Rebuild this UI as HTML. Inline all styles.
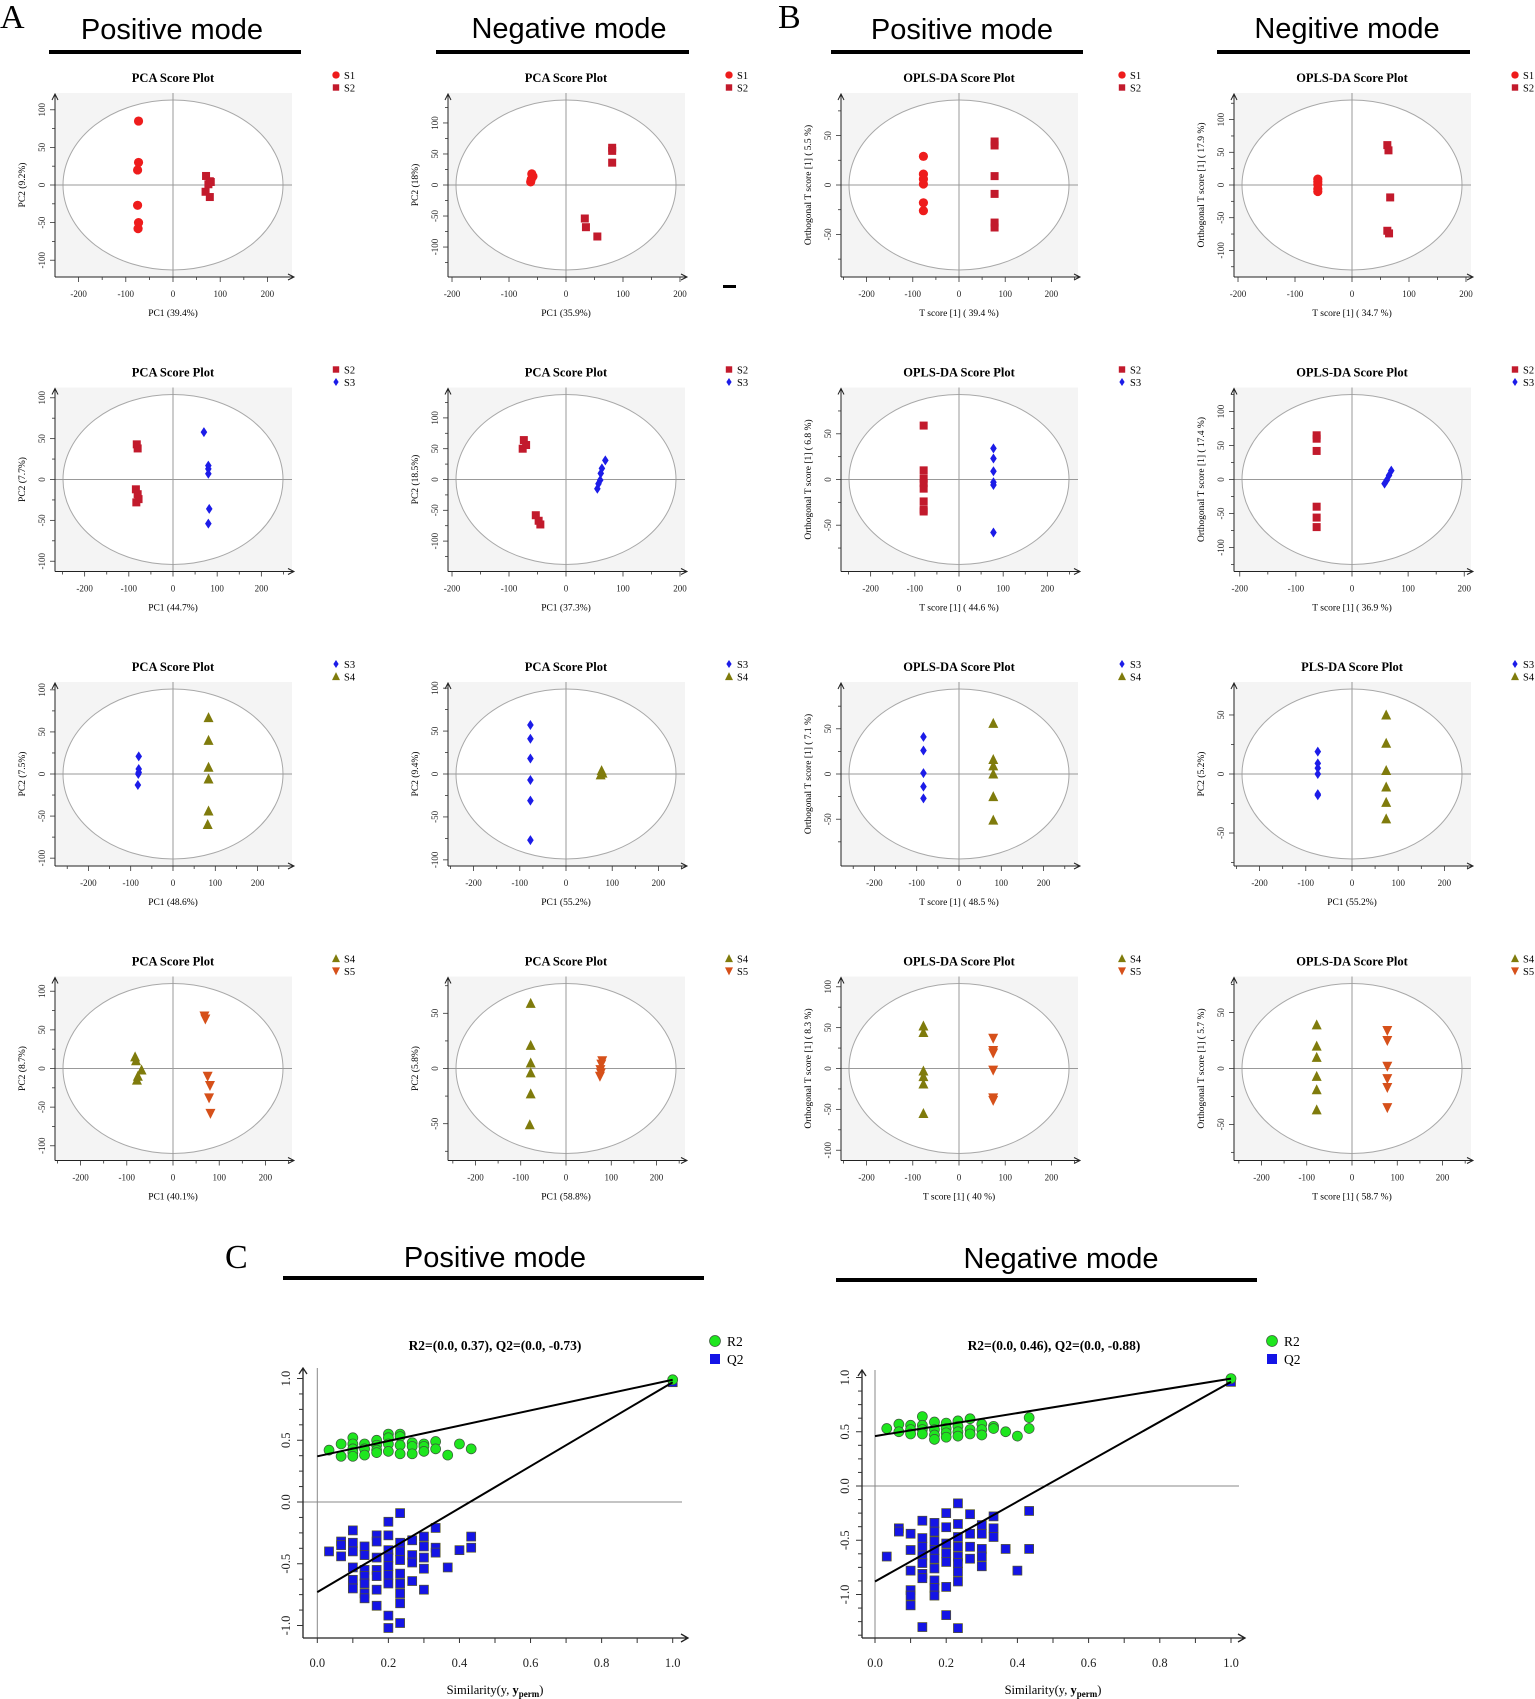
<!DOCTYPE html>
<html><head><meta charset="utf-8"><style>
html,body{margin:0;padding:0;background:#fff;}
svg{display:block;font-family:"Liberation Serif",serif;}
.hd{font-family:"Liberation Sans",sans-serif;font-size:29px;fill:#000;}
</style></head><body>
<svg id="fig" width="1535" height="1699" viewBox="0 0 1535 1699" xmlns="http://www.w3.org/2000/svg">
<text x="0" y="28" font-size="34" font-family="Liberation Serif,serif">A</text>
<text x="778" y="28" font-size="34" font-family="Liberation Serif,serif">B</text>
<text x="225" y="1268" font-size="34" font-family="Liberation Serif,serif">C</text>
<text class="hd" x="172" y="39" text-anchor="middle">Positive mode</text>
<rect x="49" y="50" width="252" height="4"/>
<text class="hd" x="569" y="38" text-anchor="middle">Negative mode</text>
<rect x="436" y="50" width="253" height="4"/>
<text class="hd" x="962" y="39" text-anchor="middle">Positive mode</text>
<rect x="831" y="50" width="252" height="4"/>
<text class="hd" x="1347" y="38" text-anchor="middle">Negitive mode</text>
<rect x="1217" y="50" width="253" height="4"/>
<rect x="723" y="285" width="13" height="3"/>
<text class="hd" x="495" y="1267" text-anchor="middle">Positive mode</text>
<rect x="283" y="1276" width="421" height="4"/>
<text class="hd" x="1061" y="1268" text-anchor="middle">Negative mode</text>
<rect x="836" y="1278" width="421" height="4"/>
</svg>
<script>
// ---------- score plot data (units) ----------
const r1c1_S1 = [[-73,85],[-73,30],[-75,20],[-75,-27],[-73,-50],[-74,-58]];
const r1c1_S2 = [[70,12],[78,5],[75,1],[80,4],[69,-9],[78,-16]];
const r1c2_S1 = [[-60,18],[-58,14],[-61,9],[-62,5]];
const r1c2_S2 = [[81,60],[81,55],[81,36],[33,-54],[35,-68],[55,-83]];
const r1c3_S1 = [[-77,29],[-77,11],[-77,6],[-77,1],[-77,-18],[-77,-26]];
const r1c3_S2 = [[77,44],[77,40],[77,9],[77,-9],[77,-38],[77,-43]];
const r1c4_S1 = [[-60,9],[-60,5],[-60,1],[-60,-6],[-60,-10]];
const r1c4_S2 = [[62,61],[64,53],[67,-19],[62,-70],[65,-74]];
const r2c1_S2 = [[-82,43],[-80,38],[-84,-12],[-80,-18],[-78,-24],[-83,-28]];
const r2c1_S3 = [[70,58],[80,17],[80,13],[80,7],[82,-36],[80,-54]];
const r2c2_S2 = [[-74,64],[-70,56],[-76,50],[-53,-58],[-48,-67],[-45,-73]];
const r2c2_S3 = [[69,31],[63,18],[61,10],[60,-1],[57,-7],[55,-15]];
const r2c3_S2 = [[-80,59],[-80,10],[-80,1],[-80,-4],[-80,-10],[-80,-24],[-80,-33],[-80,-35]];
const r2c3_S3 = [[78,34],[78,23],[78,9],[78,-3],[78,-6],[78,-58]];
const r2c4_S2 = [[-63,65],[-63,60],[-63,42],[-63,-40],[-63,-56],[-63,-70]];
const r2c4_S3 = [[70,13],[66,6],[62,-1],[58,-6]];
const r3c1_S3 = [[-81,21],[-81,6],[-81,2],[-82,0],[-83,-13]];
const r3c1_S4 = [[84,67],[84,40],[84,8],[84,-6],[84,-44],[82,-60]];
const r3c2_S3 = [[-77,57],[-77,41],[-77,18],[-77,-7],[-77,-31],[-77,-77]];
const r3c2_S4 = [[77,4],[79,1],[75,-1]];
const r3c3_S3 = [[-84,41],[-84,26],[-84,1],[-84,-14],[-84,-27]];
const r3c3_S4 = [[81,56],[81,16],[81,9],[81,0],[81,-25],[81,-51]];
const r3c4_S3 = [[-74,19],[-74,9],[-74,5],[-74,0],[-74,-17],[-74,-18]];
const r3c4_S4 = [[74,50],[74,26],[74,3],[74,-11],[74,-24],[74,-38]];
const r4c1_S4 = [[-82,15],[-80,10],[-68,-2],[-78,-15],[-76,-10]];
const r4c1_S5 = [[68,68],[70,64],[75,-10],[80,-22],[78,-38],[81,-58]];
const r4c2_S4 = [[-78,59],[-78,21],[-78,5],[-78,-4],[-78,-23],[-80,-51]];
const r4c2_S5 = [[80,7],[78,4],[76,-1],[77,-4],[75,-7]];
const r4c3_S4 = [[-77,52],[-77,44],[-77,-3],[-77,-10],[-77,-19],[-77,-55]];
const r4c3_S5 = [[74,37],[74,22],[74,19],[74,-2],[74,-36],[74,-39]];
const r4c4_S4 = [[-78,39],[-78,20],[-78,10],[-78,-7],[-78,-19],[-78,-37]];
const r4c4_S5 = [[78,34],[78,25],[78,2],[78,-9],[78,-17],[78,-35]];

// ellipse half-axes (units) per panel, row-major
const xRadius = [233,193,238,193, 249,193,249,196, 260,238,260,238, 238,243,238,243];
const yRadius = [113,137,86,130, 104,138,93,125, 101,99,94,72, 110,77,104,76];
const xTicks = [-200,-100,0,100,200];
const titles = ["PCA Score Plot","PCA Score Plot","OPLS-DA Score Plot","OPLS-DA Score Plot",
 "PCA Score Plot","PCA Score Plot","OPLS-DA Score Plot","OPLS-DA Score Plot",
 "PCA Score Plot","PCA Score Plot","OPLS-DA Score Plot","PLS-DA Score Plot",
 "PCA Score Plot","PCA Score Plot","OPLS-DA Score Plot","OPLS-DA Score Plot"];
const xLabels = ["PC1 (39.4%)","PC1 (35.9%)","T score [1] ( 39.4 %)","T score [1] ( 34.7 %)",
 "PC1 (44.7%)","PC1 (37.3%)","T score [1] ( 44.6 %)","T score [1] ( 36.9 %)",
 "PC1 (48.6%)","PC1 (55.2%)","T score [1] ( 48.5 %)","PC1 (55.2%)",
 "PC1 (40.1%)","PC1 (58.8%)","T score [1] ( 40 %)","T score [1] ( 58.7 %)"];
const yLabels = ["PC2 (9.2%)","PC2 (18%)","Orthogonal T score [1] ( 5.5 %)","Orthogonal T score [1] ( 17.9 %)",
 "PC2 (7.7%)","PC2 (18.5%)","Orthogonal T score [1] ( 6.8 %)","Orthogonal T score [1] ( 17.4 %)",
 "PC2 (7.5%)","PC2 (9.4%)","Orthogonal T score [1] ( 7.1 %)","PC2 (5.2%)",
 "PC2 (8.7%)","PC2 (5.8%)","Orthogonal T score [1] ( 8.3 %)","Orthogonal T score [1] ( 5.7 %)"];
const groupNames = [["S1","S2"],["S2","S3"],["S3","S4"],["S4","S5"]];
const groupData = [
 [r1c1_S1,r1c1_S2],[r1c2_S1,r1c2_S2],[r1c3_S1,r1c3_S2],[r1c4_S1,r1c4_S2],
 [r2c1_S2,r2c1_S3],[r2c2_S2,r2c2_S3],[r2c3_S2,r2c3_S3],[r2c4_S2,r2c4_S3],
 [r3c1_S3,r3c1_S4],[r3c2_S3,r3c2_S4],[r3c3_S3,r3c3_S4],[r3c4_S3,r3c4_S4],
 [r4c1_S4,r4c1_S5],[r4c2_S4,r4c2_S5],[r4c3_S4,r4c3_S5],[r4c4_S4,r4c4_S5]];

// ---------- permutation data ----------
const posR2x = [0.033,0.067,0.067,0.1,0.1,0.1,0.1,0.1,0.133,0.133,0.133,0.167,0.167,0.167,0.167,0.2,0.2,0.2,0.2,0.233,0.233,0.233,0.233,0.267,0.267,0.267,0.3,0.3,0.3,0.333,0.333,0.367,0.4,0.433,1.0];
const posR2y = [0.42,0.47,0.37,0.52,0.47,0.43,0.40,0.37,0.47,0.43,0.38,0.50,0.46,0.42,0.40,0.55,0.52,0.47,0.41,0.55,0.53,0.46,0.39,0.48,0.45,0.39,0.47,0.45,0.41,0.49,0.43,0.38,0.47,0.43,0.99];
const posQ2x = [0.033,0.067,0.067,0.067,0.1,0.1,0.1,0.1,0.1,0.1,0.133,0.133,0.133,0.133,0.133,0.133,0.133,0.167,0.167,0.167,0.167,0.167,0.167,0.167,0.2,0.2,0.2,0.2,0.2,0.2,0.2,0.2,0.2,0.233,0.233,0.233,0.233,0.233,0.233,0.233,0.233,0.233,0.267,0.267,0.267,0.267,0.3,0.3,0.3,0.3,0.3,0.333,0.333,0.333,0.367,0.4,0.433,0.433,1.0];
const posQ2y = [-0.40,-0.32,-0.35,-0.44,-0.23,-0.33,-0.40,-0.53,-0.63,-0.70,-0.36,-0.43,-0.55,-0.60,-0.66,-0.74,-0.78,-0.27,-0.32,-0.45,-0.55,-0.60,-0.71,-0.84,-0.16,-0.27,-0.39,-0.45,-0.52,-0.59,-0.66,-0.92,-1.02,-0.09,-0.33,-0.40,-0.47,-0.58,-0.66,-0.74,-0.82,-0.98,-0.31,-0.43,-0.49,-0.64,-0.28,-0.36,-0.45,-0.54,-0.71,-0.21,-0.37,-0.41,-0.53,-0.39,-0.28,-0.37,0.97];
const negR2x = [0.033,0.067,0.067,0.1,0.1,0.1,0.133,0.133,0.133,0.133,0.167,0.167,0.167,0.167,0.2,0.2,0.2,0.2,0.233,0.233,0.233,0.233,0.267,0.267,0.267,0.3,0.3,0.3,0.333,0.333,0.367,0.4,0.433,0.433,1.0];
const negR2y = [0.53,0.57,0.50,0.56,0.52,0.48,0.64,0.56,0.52,0.48,0.59,0.52,0.47,0.43,0.58,0.53,0.49,0.45,0.60,0.55,0.50,0.46,0.62,0.52,0.48,0.57,0.52,0.47,0.55,0.53,0.50,0.46,0.63,0.53,0.99];
const negQ2x = [0.033,0.067,0.067,0.1,0.1,0.1,0.1,0.1,0.1,0.133,0.133,0.133,0.133,0.133,0.133,0.133,0.133,0.167,0.167,0.167,0.167,0.167,0.167,0.167,0.167,0.167,0.2,0.2,0.2,0.2,0.2,0.2,0.2,0.233,0.233,0.233,0.233,0.233,0.233,0.233,0.233,0.233,0.267,0.267,0.267,0.267,0.3,0.3,0.3,0.3,0.3,0.333,0.333,0.333,0.367,0.4,0.433,0.433,1.0];
const negQ2y = [-0.65,-0.39,-0.42,-0.44,-0.59,-0.78,-0.96,-1.01,-1.10,-0.32,-0.48,-0.56,-0.64,-0.71,-0.81,-0.85,-1.30,-0.34,-0.42,-0.51,-0.59,-0.67,-0.76,-0.87,-0.94,-1.01,-0.25,-0.38,-0.53,-0.62,-0.70,-0.93,-1.19,-0.16,-0.35,-0.47,-0.56,-0.65,-0.71,-0.79,-0.88,-1.31,-0.26,-0.44,-0.56,-0.67,-0.36,-0.44,-0.58,-0.65,-0.74,-0.28,-0.39,-0.47,-0.58,-0.78,-0.23,-0.58,0.96];
const permYTicks = [-1.0,-0.5,0.0,0.5,1.0];
const permXTicks = [0.0,0.2,0.4,0.6,0.8,1.0];
const posIntercepts = [0.37,-0.73];
const negIntercepts = [0.46,-0.88];

const NS = "http://www.w3.org/2000/svg";
const svg = document.getElementById("fig");
function mk(tag, attrs, parent){
  const e = document.createElementNS(NS, tag);
  for (const k in attrs) e.setAttribute(k, attrs[k]);
  (parent||svg).appendChild(e);
  return e;
}
const colors = {S1:"#ee1c1c",S2:"#c21a2c",S3:"#1c1ce8",S4:"#7f7b0c",S5:"#d6501a"};
const shapes = {S1:"circle",S2:"square",S3:"diamond",S4:"tri",S5:"itri"};
function marker(g, name, x, y, sc){
  const c = colors[name], s = shapes[name], k = sc||1;
  let e;
  if (s==="circle") e = mk("circle",{cx:x,cy:y,r:4.6*k,fill:c},g);
  else if (s==="square") e = mk("rect",{x:x-4*k,y:y-4*k,width:8*k,height:8*k,fill:c},g);
  else if (s==="diamond") e = mk("polygon",{points:`${x},${y-5*k} ${x+3.3*k},${y} ${x},${y+5*k} ${x-3.3*k},${y}`,fill:c},g);
  else if (s==="tri") e = mk("polygon",{points:`${x},${y-5.5*k} ${x+5*k},${y+4.5*k} ${x-5*k},${y+4.5*k}`,fill:c},g);
  else e = mk("polygon",{points:`${x},${y+5.5*k} ${x+5*k},${y-4.5*k} ${x-5*k},${y-4.5*k}`,fill:c},g);
  return e;
}
function txt(g, x, y, s, attrs){
  const t = mk("text", Object.assign({x:x,y:y}, attrs||{}), g);
  t.textContent = s;
  return t;
}

// ---------- score plots ----------
for (let i=0;i<16;i++){
  const row = Math.floor(i/4), col = i%4;
  const ox = col*393, oy = row*294.5;
  const g = mk("g",{transform:`translate(${ox},${oy})`});
  
  
  const cx = 173, cy = 185;
  const sx = 110/xRadius[i], sy = 85/yRadius[i];
  const X = v => cx + v*sx, Y = v => cy - v*sy;
  mk("rect",{x:55,y:93,width:237,height:184,fill:"#f4f4f4"},g);
  mk("ellipse",{cx:cx,cy:cy,rx:110,ry:85,fill:"#fff",stroke:"#a8a8a8","stroke-width":1},g);
  mk("line",{x1:55,y1:cy,x2:292,y2:cy,stroke:"#999","stroke-width":1},g);
  mk("line",{x1:cx,y1:93,x2:cx,y2:277,stroke:"#999","stroke-width":1},g);
  // axes
  mk("path",{d:"M55,277 V95 M52,100 L55,94 L58,100 M55,277 H294 M288,274 L294,277 L288,280",stroke:"#222",fill:"none","stroke-width":1},g);
  // x ticks
  for (let v=-250; v<=250; v+=50){
    const px = X(v); if (px<57||px>290) continue;
    mk("line",{x1:px,y1:277,x2:px,y2:(v%100===0)?282:280,stroke:"#333","stroke-width":0.8},g);
  }
  xTicks.forEach(v=>{
    const t = txt(g, X(v), 297, String(v), {"font-size":9,"text-anchor":"middle",fill:"#222"});
    
    
  });
  // y ticks
  const yr = yRadius[i];
  const yStep = yr < 95 ? 50 : 50;
  for (let v=-150; v<=150; v+=25){
    const py = Y(v); if (py<97||py>275) continue;
    mk("line",{x1:55,y1:py,x2:(v%50===0)?50:52,y2:py,stroke:"#333","stroke-width":0.8},g);
    if (v%yStep===0){
      const t = txt(g, 0, 0, String(v), {"font-size":9,"text-anchor":"middle",fill:"#222",transform:`translate(45,${py}) rotate(-90)`});
      
      
    }
  }
  const tt = txt(g, 173, 82, titles[i], {"font-size":12.5,"font-weight":"bold","text-anchor":"middle"});
  
  
  const xl = txt(g, 173, 316, xLabels[i], {"font-size":9.5,"text-anchor":"middle"});
  
  
  const yl = txt(g, 0, 0, yLabels[i], {"font-size":9.5,"text-anchor":"middle",transform:`translate(25,${cy}) rotate(-90)`});
  
  
  // legend
  const names = groupNames[row];
  names.forEach((n,k)=>{
    const ly = 75 + k*12.5;
    const m = marker(g, n, 336, ly, 0.8);
    
    
    const lt = txt(g, 344, ly+4, n, {"font-size":10.5});
    
    
  });
  // points
  groupData[i].forEach((arr,k)=>{
    arr.forEach(p=>{
      const m = marker(g, names[k], X(p[0]), Y(p[1]), 1);
      
      
    });
  });
}

// ---------- permutation plots ----------
function permPlot(cfg){
  const g = mk("g",{});
  
  
  const X = v => cfg.x0 + v*cfg.xs, Y = v => cfg.y0 - v*cfg.ys;
  mk("line",{x1:X(0),y1:cfg.top,x2:X(0),y2:cfg.bottom,stroke:"#888","stroke-width":1},g);
  mk("line",{x1:cfg.left,y1:Y(0),x2:cfg.right-6,y2:Y(0),stroke:"#888","stroke-width":1},g);
  mk("path",{d:`M${cfg.left},${cfg.bottom} V${cfg.top} M${cfg.left-4},${cfg.top+6} L${cfg.left},${cfg.top} L${cfg.left+4},${cfg.top+6} M${cfg.left},${cfg.bottom} H${cfg.right} M${cfg.right-7},${cfg.bottom-4} L${cfg.right},${cfg.bottom} L${cfg.right-7},${cfg.bottom+4}`,stroke:"#222",fill:"none","stroke-width":1.3},g);
  for (let v=-1.5; v<=1.01; v+=0.125){
    const py = Y(v); if (py<cfg.top+4||py>cfg.bottom-2) continue;
    const major = Math.abs(v*2-Math.round(v*2))<1e-6;
    mk("line",{x1:cfg.left,y1:py,x2:cfg.left-(major?6:4),y2:py,stroke:"#333","stroke-width":1},g);
  }
  for (let v=0; v<=1.01; v+=0.1){
    mk("line",{x1:X(v),y1:cfg.bottom,x2:X(v),y2:cfg.bottom+5,stroke:"#333","stroke-width":1},g);
  }
  permXTicks.forEach(v=>{
    const t = txt(g, X(v), cfg.bottom+29, v.toFixed(1), {"font-size":12.5,"text-anchor":"middle",fill:"#222"});
    
    
  });
  permYTicks.forEach(v=>{
    const t = txt(g, 0, 0, v.toFixed(1), {"font-size":12.5,"text-anchor":"middle",fill:"#222",transform:`translate(${cfg.left-13},${Y(v)}) rotate(-90)`});
    
    
  });
  const tt = txt(g, cfg.tx, cfg.ty, cfg.title, {"font-size":13.5,"font-weight":"bold","text-anchor":"middle"});
  
  
  const xl = mk("text",{x:X(0.5),y:cfg.bottom+56,"font-size":12.5,"text-anchor":"middle"},g);
  
  
  xl.appendChild(document.createTextNode("Similarity(y, "));
  const ts = document.createElementNS(NS,"tspan"); ts.setAttribute("font-weight","bold"); ts.textContent="y"; xl.appendChild(ts);
  const sub = document.createElementNS(NS,"tspan"); sub.setAttribute("font-size","9"); sub.setAttribute("font-weight","bold"); sub.setAttribute("dy","3"); sub.textContent="perm"; xl.appendChild(sub);
  const cl = document.createElementNS(NS,"tspan"); cl.setAttribute("dy","-3"); cl.textContent=")"; xl.appendChild(cl);
  // points
  cfg.qx.forEach((v,k)=>{
    const r = mk("rect",{x:X(v)-4.5,y:Y(cfg.qy[k])-4.5,width:9,height:9,fill:"#1414e6",stroke:"#555522","stroke-width":0.7},g);
    
    
  });
  cfg.rx.forEach((v,k)=>{
    const c = mk("circle",{cx:X(v),cy:Y(cfg.ry[k]),r:5,fill:"#1ee61e",stroke:"#3a5a3a","stroke-width":0.7},g);
    
    
  });
  const lr = mk("line",{x1:X(0),y1:Y(cfg.ic[0]),x2:X(1),y2:Y(cfg.ry[cfg.ry.length-1]),stroke:"#000","stroke-width":2},g);
  
  
  const lq = mk("line",{x1:X(0),y1:Y(cfg.ic[1]),x2:X(1),y2:Y(cfg.qy[cfg.qy.length-1]),stroke:"#000","stroke-width":2},g);
  
  
  // legend
  const lc = mk("circle",{cx:cfg.lx,cy:cfg.ly,r:5.5,fill:"#1ee61e",stroke:"#3a5a3a","stroke-width":0.7},g);
  
  
  const l1 = txt(g, cfg.lx+12, cfg.ly+5, "R2", {"font-size":13.5});
  
  
  const lq2 = mk("rect",{x:cfg.lx-5,y:cfg.ly+13,width:10,height:10,fill:"#1414e6"},g);
  
  
  const l2 = txt(g, cfg.lx+12, cfg.ly+23, "Q2", {"font-size":13.5});
  
  
}
permPlot({name:"permutation-plot-positive",x0:317.3,xs:355.4,y0:1502,ys:123.5,left:303,right:688,top:1368,bottom:1638,
  tx:495,ty:1350,title:"R2=(0.0, 0.37), Q2=(0.0, -0.73)",lx:715,ly:1341,
  rx:posR2x,ry:posR2y,qx:posQ2x,qy:posQ2y,ic:posIntercepts});
permPlot({name:"permutation-plot-negative",x0:875,xs:356,y0:1486,ys:108.5,left:862,right:1245,top:1370,bottom:1638,
  tx:1054,ty:1350,title:"R2=(0.0, 0.46), Q2=(0.0, -0.88)",lx:1272,ly:1341,
  rx:negR2x,ry:negR2y,qx:negQ2x,qy:negQ2y,ic:negIntercepts});
</script>
</body></html>
